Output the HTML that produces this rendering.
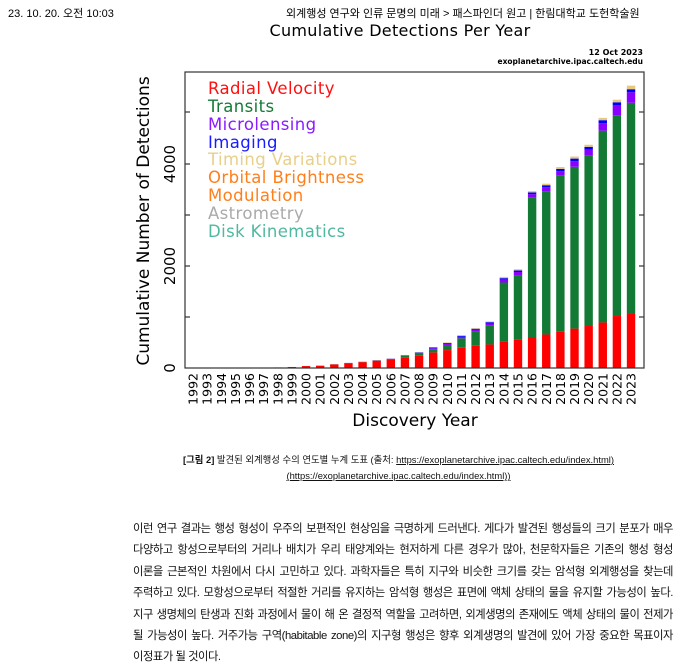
<!DOCTYPE html>
<html><head><meta charset="utf-8"><style>
body{margin:0;background:#fff;width:680px;height:647px;overflow:hidden;position:relative;font-family:"Liberation Sans","Noto Sans CJK KR",sans-serif}
.hd{position:absolute;top:5px;font-size:11px;color:#000}
.cap{position:absolute;left:0;width:797px;text-align:center;font-size:9.4px;color:#111}
.p{position:absolute;left:133px;width:540px;font-size:11.3px;line-height:21.4px;color:#111;top:519px;letter-spacing:-0.45px;white-space:nowrap}
.p div{text-align:justify;text-align-last:justify}
.p div.l{text-align-last:left}
</style></head><body>
<div class="hd" style="left:8px">23. 10. 20. 오전 10:03</div>
<div class="hd" style="left:286px">외계행성 연구와 인류 문명의 미래 &gt; 패스파인더 원고 | 한림대학교 도헌학술원</div>
<svg width="680" height="647" style="position:absolute;left:0;top:0" font-family="'DejaVu Sans','Liberation Sans',sans-serif">
<text x="400" y="36" font-size="16" text-anchor="middle" letter-spacing="0.3">Cumulative Detections Per Year</text>
<text x="643" y="55" font-size="8" font-weight="bold" text-anchor="end">12 Oct 2023</text>
<text x="643" y="64" font-size="7.5" font-weight="bold" text-anchor="end">exoplanetarchive.ipac.caltech.edu</text>
<g id="bars"></g>
<rect x="185" y="72" width="459" height="296" fill="none" stroke="#333" stroke-width="1.2"/>
<g stroke="#333" stroke-width="1.2">
<line x1="185" y1="112" x2="190" y2="112"/><line x1="185" y1="164" x2="190" y2="164"/><line x1="185" y1="215" x2="190" y2="215"/><line x1="185" y1="266" x2="190" y2="266"/><line x1="185" y1="317" x2="190" y2="317"/>
<line x1="639" y1="112" x2="644" y2="112"/><line x1="639" y1="164" x2="644" y2="164"/><line x1="639" y1="215" x2="644" y2="215"/><line x1="639" y1="266" x2="644" y2="266"/><line x1="639" y1="317" x2="644" y2="317"/>
</g>
<g font-size="15" text-anchor="middle">
<text transform="translate(175,368) rotate(-90)">0</text>
<text transform="translate(175,266) rotate(-90)">2000</text>
<text transform="translate(175,164) rotate(-90)">4000</text>
</g>
<text transform="translate(149,221) rotate(-90)" font-size="17" text-anchor="middle">Cumulative Number of Detections</text>
<text x="415" y="426" font-size="17" text-anchor="middle">Discovery Year</text>
<g id="xl" font-size="12.5" text-anchor="end"></g>
<g font-size="16.5" letter-spacing="0.4">
<text x="208" y="94" fill="#ff1010">Radial Velocity</text>
<text x="208" y="112" fill="#157a36">Transits</text>
<text x="208" y="130" fill="#8a1aff">Microlensing</text>
<text x="208" y="148" fill="#1a1aff">Imaging</text>
<text x="208" y="165" fill="#e8cf8a">Timing Variations</text>
<text x="208" y="183" fill="#ff7f1a">Orbital Brightness</text>
<text x="208" y="201" fill="#ff7f1a">Modulation</text>
<text x="208" y="219" fill="#aaaaaa">Astrometry</text>
<text x="208" y="237" fill="#4fb8a0">Disk Kinematics</text>
</g>
</svg>
<div class="cap" style="top:452px"><b>[그림 2]</b> 발견된 외계행성 수의 연도별 누계 도표 (출처: <u>https://exoplanetarchive.ipac.caltech.edu/index.html)</u></div>
<div class="cap" style="top:470px"><u>(https://exoplanetarchive.ipac.caltech.edu/index.html))</u></div>
<div class="p">
<div>이런 연구 결과는 행성 형성이 우주의 보편적인 현상임을 극명하게 드러낸다. 게다가 발견된 행성들의 크기 분포가 매우</div>
<div>다양하고 항성으로부터의 거리나 배치가 우리 태양계와는 현저하게 다른 경우가 많아, 천문학자들은 기존의 행성 형성</div>
<div>이론을 근본적인 차원에서 다시 고민하고 있다. 과학자들은 특히 지구와 비슷한 크기를 갖는 암석형 외계행성을 찾는데</div>
<div>주력하고 있다. 모항성으로부터 적절한 거리를 유지하는 암석형 행성은 표면에 액체 상태의 물을 유지할 가능성이 높다.</div>
<div>지구 생명체의 탄생과 진화 과정에서 물이 해 온 결정적 역할을 고려하면, 외계생명의 존재에도 액체 상태의 물이 전제가</div>
<div>될 가능성이 높다. 거주가능 구역(habitable zone)의 지구형 행성은 향후 외계생명의 발견에 있어 가장 중요한 목표이자</div>
<div class="l">이정표가 될 것이다.</div>
</div>
<script>
var d=[[1,0,0,0,0],[2,0,0,0,0],[3,0,0,0,0],[4,0,0,0,0],[6,0,0,0,0],[8,0,0,0,0],[11,0,0,0,0],[20,0,0,0,0],[38,1,0,0,0],[45,1,0,0,0],[70,2,0,1,1],[95,3,0,1,1],[115,4,2,1,1],[143,5,3,2,2],[168,8,4,3,3],[200,40,6,5,4],[240,45,10,8,7],[305,60,20,15,10],[350,100,22,18,10],[395,185,30,20,10],[435,275,35,22,13],[460,365,45,25,15],[515,1155,55,30,25],[560,1255,60,30,25],[605,2720,70,35,25],[655,2800,75,40,30],[710,3045,90,45,35],[770,3160,110,50,40],[820,3325,120,55,40],[890,3745,145,60,45],[1015,3920,195,60,50],[1055,4125,205,60,70]];
var c=["#ff0000","#137a36","#8a00ff","#0000ff","#e6c97a"],s=0.0512,h="",xl="";
d.forEach(function(v,i){var x=193+i*14.13,y=368;v.forEach(function(n,j){var hh=n*s;if(hh>0){y-=hh;h+='<rect x="'+(x-4.2)+'" y="'+y+'" width="8.4" height="'+hh+'" fill="'+c[j]+'"/>';}});
xl+='<text transform="translate('+(x+4.5)+',373) rotate(-90)">'+(1992+i)+'</text>';});
document.getElementById("bars").innerHTML=h;document.getElementById("xl").innerHTML=xl;
</script>
</body></html>
